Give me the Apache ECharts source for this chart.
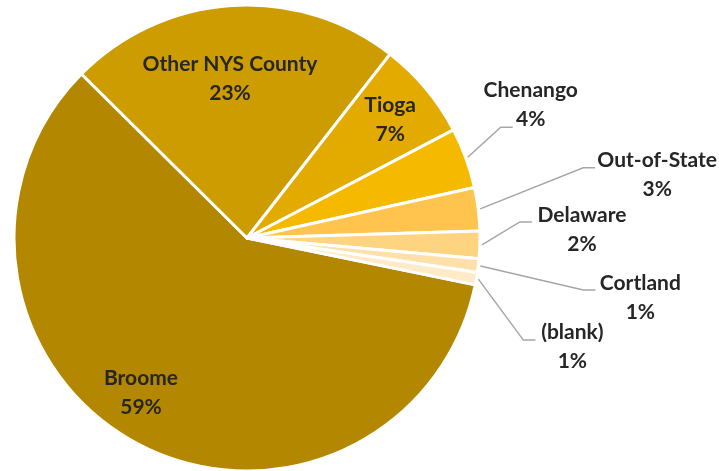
<!DOCTYPE html>
<html>
<head>
<meta charset="utf-8">
<script src="https://cdn.jsdelivr.net/npm/echarts@6/dist/echarts.min.js"></script>
<style>
  html, body { margin: 0; padding: 0; background: #fff; }
  #main { width: 719px; height: 471px; }
</style>
</head>
<body>
<div id="main"></div>
<script>
// categories and shares (percent), clockwise from Broome
var categories = ['Broome', 'Other NYS County', 'Tioga', 'Chenango', 'Out-of-State', 'Delaware', 'Cortland', '(blank)'];
var shares = [59.2, 23.1, 6.8, 4.2, 3.0, 1.9, 0.95, 0.85];
var colors = ['#B38800', '#CC9C00', '#E3AA00', '#F5BA00', '#FFC44D', '#FFD480', '#FFE0AA', '#FFEBC8'];

// label placement (styling only)
var insideLabels = ['Broome', 'Other NYS County', 'Tioga'];
var insideRatio = [0.806, 0.687, 0.796];   // distance from centre / radius
var insideTurn = [6.2, -2.4, 0.4];          // degrees off the slice mid-angle
// outside labels: offset of label centre from slice edge, and leader end from label centre
var outsideShift = {
  'Chenango': [63, -53, -18, 23],
  'Out-of-State': [177, -34, -62, -7],
  'Delaware': [100, -15, -50, -8],
  'Cortland': [160, 32, -45, -8],
  '(blank)': [94, 68, -37, -7]
};

var chart = echarts.init(document.getElementById('main'));

var cx = 247, cy = 238, R = 233;
var startAngle = 348.4; // math degrees, Broome starts here

// mid-angle (compass degrees, clockwise from north) of each slice
var total = shares.reduce(function (a, b) { return a + b; }, 0);
var midAngles = [];
var acc = 90 - startAngle;
shares.forEach(function (v) {
  var span = v / total * 360;
  midAngles.push(acc + span / 2);
  acc += span;
});
function polar(deg, r) {
  var a = deg * Math.PI / 180;
  return [cx + r * Math.sin(a), cy - r * Math.cos(a)];
}

var pieData = categories.map(function (name, i) {
  var inside = insideLabels.indexOf(name) >= 0;
  var item = {
    name: name,
    value: shares[i],
    itemStyle: { color: colors[i] },
    label: { position: inside ? 'inside' : 'outside' }
  };
  if (!inside) {
    item.labelLine = { show: true, length: 10, length2: 10 };
  }
  return item;
});

var option = {
  animation: false,
  series: [{
    type: 'pie',
    center: [cx, cy],
    radius: R,
    startAngle: startAngle,
    clockwise: true,
    avoidLabelOverlap: false,
    percentPrecision: 0,
    itemStyle: { borderColor: '#fff', borderWidth: 3 },
    label: {
      formatter: '{b}\n{d}%',
      fontFamily: 'Lato',
      fontWeight: 'bold',
      fontSize: 21,
      lineHeight: 29,
      color: '#262626',
      align: 'center'
    },
    labelLine: {
      lineStyle: { color: '#A6A6A6', width: 1.5 },
      smooth: false
    },
    labelLayout: function (p) {
      var name = categories[p.dataIndex];
      var k = insideLabels.indexOf(name);
      if (k >= 0) {
        var pt = polar(midAngles[p.dataIndex] + insideTurn[k], R * insideRatio[k]);
        return { x: pt[0], y: pt[1], align: 'center', verticalAlign: 'middle' };
      }
      var s = outsideShift[name];
      var edge = polar(midAngles[p.dataIndex], R + 2);
      var lx = edge[0] + s[0], ly = edge[1] + s[1];
      var ex = lx + s[2], ey = ly + s[3];
      return {
        x: lx, y: ly, align: 'center', verticalAlign: 'middle',
        labelLinePoints: [edge, [ex - 12, ey], [ex, ey]]
      };
    },
    data: pieData
  }]
};

chart.setOption(option);
</script>
</body>
</html>
